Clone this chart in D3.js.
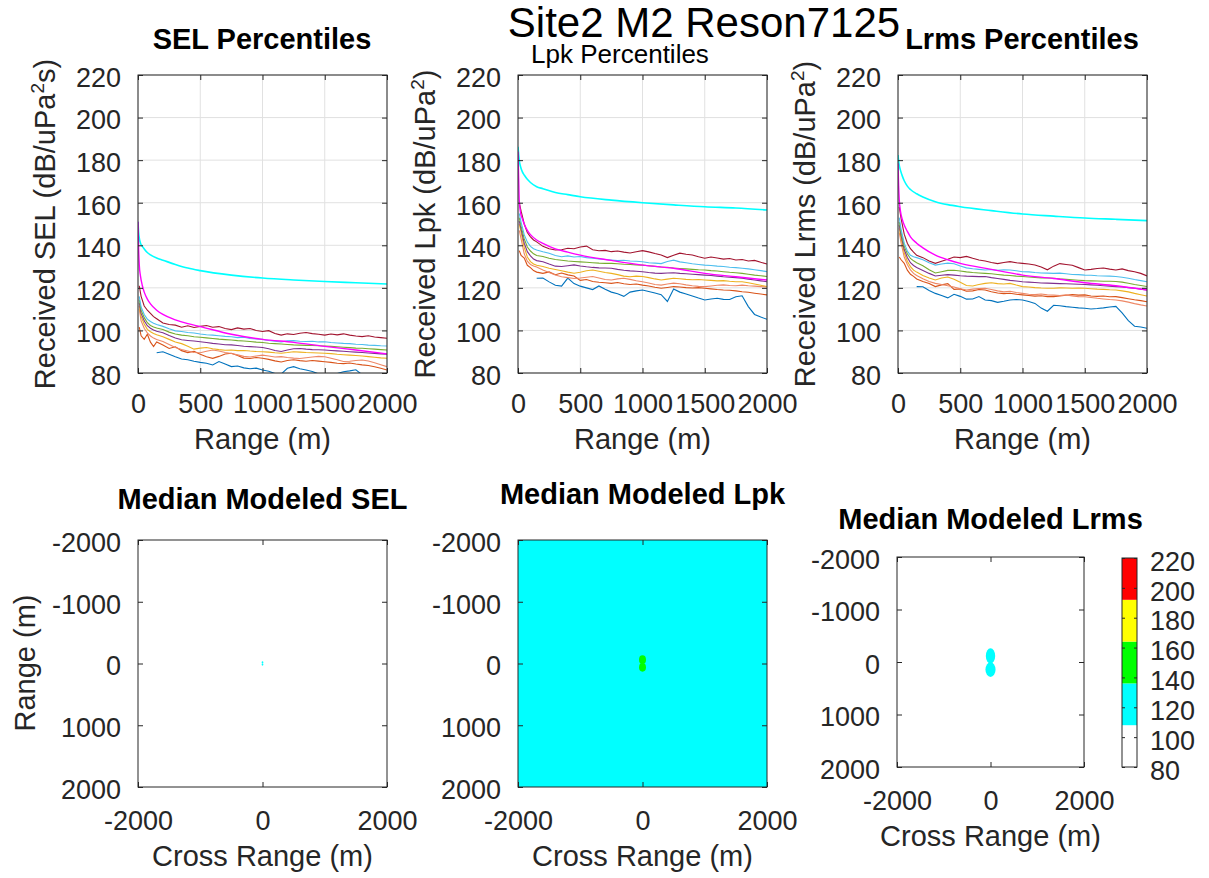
<!DOCTYPE html>
<html><head><meta charset="utf-8">
<script src="https://cdn.jsdelivr.net/npm/d3@7"></script>
<style>body{margin:0;background:#fff;} svg{display:block;}</style>
</head><body><svg id="c" width="1209" height="878"></svg>
<script>
// ---------------- DATA ----------------
const rangeGrid = [10,25,50,75,100,125,150,200,250,300,350,400,450,500,550,600,650,700,750,800,850,900,950,1000,1050,1100,1150,1200,1250,1300,1350,1400,1450,1500,1550,1600,1650,1700,1750,1800,1850,1900,1950,2000];
const modelRange = [0,5,10,20,35,50,75,100,150,200,300,400,500,750,1000,1250,1500,1750,2000];
const rangeTicks = [0,500,1000,1500,2000];
const levelTicks = [80,100,120,140,160,180,200,220];
const mapXTicks = [-2000,0,2000];
const mapYTicks = [-2000,-1000,0,1000,2000];
const levelEdges = [80,108,136,164,192,220];
const levelColors = ['#ffffff','#00ffff','#00ff00','#ffff00','#ff0000'];
const seriesColors = {blue:'#0072BD', orange:'#D95319', salmon:'#EE8866', yellow:'#EDB120', purple:'#7E2F8E', green:'#77AC30', lightblue:'#4DBEEE', darkred:'#A2142F', model:'#00FFFF', fit:'#FF00FF'};

// SEL percentiles
const selDarkRed = [121,116,111.5,109.5,108,106.5,105.5,103.5,102.8,102.5,101.5,102.2,101.4,101.9,102.3,101.5,101.8,100.9,100.4,101.2,100.6,100.9,100.0,99.5,99.9,98.6,97.8,98.4,98.1,98.7,99.0,98.5,98.2,97.8,98.3,97.9,98.4,97.8,97.4,97.1,97.5,96.9,96.6,96.3];
const selLightBlue = [116,111,107.5,105.3,104.2,103.4,102.8,101.9,100.8,99.8,99.5,99.0,98.8,98.3,98.0,97.8,97.5,97.2,97.0,96.6,96.8,96.2,96.0,95.8,95.3,94.9,94.6,95.1,95.2,94.9,94.8,94.9,94.6,94.7,94.3,94.1,93.9,93.8,93.5,93.4,93.1,93.0,92.8,92.7];
const selGreen = [114.5,109.5,106,103.6,102.3,101.6,101.1,100.4,99.2,98.3,97.8,97.5,97.0,96.8,96.5,96.2,95.9,95.7,95.5,95.2,95.0,94.8,94.5,94.3,94.0,93.8,93.6,93.4,93.2,93.1,93.0,92.9,92.8,92.7,92.5,92.3,92.1,91.9,91.7,91.6,91.4,91.2,91.0,90.8];
const selPurple = [113,108,104.5,102.2,101,100.2,99.6,98.9,97.6,96.4,95.6,95.3,95.0,94.7,94.3,93.9,93.6,93.3,93.2,92.9,92.6,92.4,92.2,92.0,91.4,90.6,90.1,90.8,91.4,91.5,91.2,91.0,90.9,90.8,90.6,90.4,90.2,90.0,89.8,89.6,89.4,89.2,89.0,88.8];
const selYellow = [111.5,106.5,103,100.5,99.4,98.6,98,97,95.8,94.6,93.8,92.6,91.2,91.7,92.0,91.4,91.0,90.7,90.8,90.5,90.6,90.3,90.1,90.0,89.8,89.5,89.3,89.6,90.0,89.8,89.6,89.5,89.4,89.3,89.1,88.8,88.6,88.4,88.2,88.0,87.7,87.4,87.1,86.9];
const selSalmon = [110,104.5,101,98.8,97.4,96.4,95.7,94.8,93.4,92.0,91.0,90.3,89.6,89.5,90.2,90.8,90.3,89.6,89.2,88.5,87.8,87.5,88.0,88.4,88.0,87.5,87.7,87.3,87.0,86.8,87.2,87.5,87.8,87.6,86.9,86.2,85.4,85.5,85.9,86.1,85.6,84.8,83.9,83.0];
const selOrange = [101.5,97.5,95.8,98.2,94.5,92.4,94.6,93.2,91.5,92.3,90.5,89.6,90.2,88.8,87.6,86.9,87.8,88.9,89.3,88.2,87.0,86.8,87.3,86.9,86.4,85.7,85.2,85.9,86.2,85.8,85.5,85.9,85.6,85.3,85.0,84.6,84.4,84.7,84.2,83.8,83.5,82.9,82.2,81.4];
const selBlue = [null,null,null,null,null,null,89.5,90.0,88.8,87.6,86.6,86.2,85.5,85.0,84.6,83.8,85.4,84.2,83.0,83.3,82.4,82.0,82.3,81.4,80.8,79.8,79.5,82.2,83.0,82.0,81.4,80.7,79.6,78.8,79.2,79.8,80.6,81.0,81.5,79.2,78.5,78.0,77.5,77.0];
const selModel = [151,146,143.5,141,139.5,138.3,136.6,135.5,134,133,131,129.3,128.1,126,124.6,123.7,123,122.4,121.8];
const selFit = [151,138,131,125.5,121,118,114.7,112.5,109.5,107.5,105,103.2,101.8,98.2,95.8,94.4,92.5,90.8,89];

// Lpk percentiles
const lpkDarkRed = [160,156,150,146,144,142.5,141.6,139.5,138.4,137.8,137.9,138.6,138.4,139.2,139.6,137.9,137.4,137.6,137.0,137.3,136.8,136.4,137.0,137.5,136.9,136.1,135.4,134.2,135.3,136.3,135.8,135.4,134.6,133.9,134.5,134.0,133.5,133.8,133.1,133.3,132.6,132.9,132.0,131.2];
const lpkLightBlue = [155,150.8,145,141.5,139.5,138.4,137.8,137.0,136.3,135.2,134.6,135.0,134.5,134.7,134.2,133.9,133.6,133.3,133.1,132.8,133.0,132.6,132.5,132.3,131.8,131.6,131.4,132.4,133.0,132.2,131.8,131.3,131.0,130.7,130.5,130.2,130.0,129.7,129.5,129.2,128.9,128.5,128.1,127.6];
const lpkGreen = [153,149,143,139.2,137.3,136,135.2,134.7,133.9,133.3,133.0,132.6,132.4,132.2,132.0,131.8,131.6,131.5,131.5,131.3,131.1,131.0,130.8,130.7,130.4,130.1,129.8,129.6,129.3,129.1,128.9,128.7,128.5,128.4,128.1,127.9,127.6,127.3,127.1,126.8,126.4,126.0,125.7,125.3];
const lpkPurple = [151.5,147.5,141,137,135,133.5,132.8,132.3,131.2,130.2,130.0,130.4,130.8,130.3,129.9,129.6,129.4,129.3,129.2,128.7,128.3,128.0,127.8,127.6,127.2,126.9,126.8,127.0,127.1,126.8,126.6,126.4,126.2,126.0,125.8,125.5,125.2,125.0,124.8,124.5,124.1,123.7,123.3,122.9];
const lpkYellow = [150,146,139,134.5,132.3,131.2,130.6,130.0,129.2,128.6,128.0,127.4,126.9,127.3,128.0,128.4,127.8,127.2,126.8,126.2,125.5,125.2,125.5,125.3,124.8,124.2,123.7,124.1,124.5,124.3,124.0,123.8,123.9,123.7,123.5,123.3,123.4,123.1,122.9,122.9,122.4,121.8,121.2,120.6];
const lpkSalmon = [147,143,136,132.5,131,130.3,129.8,128.4,127.2,126.0,125.2,124.8,124.4,124.6,125.0,125.3,124.6,123.9,123.7,124.2,124.5,124.0,123.3,122.9,122.3,121.6,121.3,121.8,122.2,121.9,121.4,121.0,120.7,120.6,120.9,121.2,121.4,121.1,121.0,121.3,121.0,120.8,120.6,120.4];
const lpkOrange = [137.5,135.2,134.0,130.6,129.5,128.1,127.4,126.8,127.5,126.2,127.0,126.1,125.6,123.5,123.9,123.0,122.6,122.4,122.1,122.5,121.9,121.6,121.8,121.3,120.9,120.3,119.8,120.2,120.6,120.4,120.1,119.9,120.1,119.8,119.5,119.2,119.0,118.9,118.6,118.2,117.9,117.5,117.1,116.7];
const lpkBlue = [null,null,null,null,null,null,124.5,124.6,122.8,121.2,120.8,124.6,122.0,120.8,120.0,119.2,120.9,119.3,118.0,117.2,116.0,118.0,118.6,119.0,118.3,117.6,116.8,113.6,119.5,118.0,117.1,116.2,115.2,114.3,114.8,115.1,114.6,114.5,115.8,116.3,111.2,107.5,106.3,105.2];
const lpkModel = [186.3,183,180,177,174.5,173,171,169.5,167.5,166.6,164.8,163.8,162.8,161.2,160,159,158.1,157.5,156.6];
const lpkFit = [184,172,161,155.5,152.5,150,147,145,142.5,140.9,138.3,136.8,135.4,132.9,130.7,129.2,126.8,125.2,123.7];

// Lrms percentiles
const lrmsDarkRed = [158,152.5,145.2,141,138.4,136.8,135.3,134.2,132.6,131.5,132.5,133.4,134.5,134.2,134.8,133.9,133.1,132.6,131.9,131.4,131.9,132.3,131.8,131.5,131.2,130.7,129.8,128.5,130.2,131.4,131.0,130.6,129.5,128.4,128.7,129.1,129.3,128.8,128.4,128.9,128.1,127.6,126.8,125.6];
const lrmsLightBlue = [153,147.5,141,137.3,135.3,134.6,134.2,133.2,131.8,130.7,131.2,131.6,131.3,130.3,129.4,129.0,128.7,128.4,128.6,128.2,128.5,128.4,128.0,127.6,127.5,127.2,127.0,126.9,126.8,126.9,126.6,126.3,126.2,126.0,125.9,125.7,125.6,125.5,125.3,125.0,124.5,123.9,123.4,122.9];
const lrmsGreen = [151,146,139.5,136,133.8,132.7,131.8,130.4,128.5,127.0,127.6,128.2,128.3,127.9,127.5,127.2,127.0,126.8,126.6,126.3,126.0,125.8,125.5,125.3,125.1,124.9,124.7,124.6,124.5,124.2,124.0,123.8,123.6,123.4,123.3,123.2,123.1,123.1,123.0,122.7,122.2,121.6,121.1,120.6];
const lrmsPurple = [149.5,144.5,138,134.3,131.8,130.5,129.6,128.2,126.8,125.6,125.9,126.2,126.0,125.7,125.5,125.4,125.3,125.3,124.8,124.4,124.0,123.5,123.2,122.9,122.7,122.5,122.3,122.2,122.1,122.0,121.9,121.8,121.7,121.6,121.4,121.2,121.0,120.8,120.6,120.4,120.1,119.8,119.4,119.0];
const lrmsYellow = [148,143,136.5,132.5,130.0,128.3,127.4,125.8,124.6,123.7,124.6,125.1,124.0,122.6,121.1,120.9,121.6,122.1,122.4,122.0,121.8,122.1,121.3,120.6,120.4,120.1,119.9,119.8,119.8,120.0,119.9,119.8,119.9,119.8,119.6,119.4,119.3,119.1,119.0,118.6,118.1,117.4,116.8,116.2];
const lrmsSalmon = [146,141,134.5,131,128.4,126.8,125.8,124.3,123.0,122.1,121.6,121.0,120.4,119.6,119.0,119.4,119.7,119.8,119.2,118.6,118.1,118.4,117.8,117.4,117.0,116.8,117.1,116.7,116.6,116.4,116.7,116.2,115.9,115.8,115.5,115.1,114.8,114.5,114.3,113.9,113.3,112.6,112.0,111.5];
const lrmsOrange = [134.5,133.2,131.5,128.3,126.4,125.4,124.2,123.0,122.0,120.6,121.4,122.0,119.3,119.5,118.4,118.6,119.2,119.0,118.2,117.6,117.3,117.5,117.0,116.7,116.4,116.1,116.3,115.9,115.9,116.2,116.5,116.8,116.6,116.7,116.2,116.0,116.2,115.8,115.9,115.4,114.9,114.4,114.0,113.5];
const lrmsBlue = [null,null,null,null,null,null,120.6,120.5,118.8,117.4,116.4,115.3,117.0,116.0,114.7,114.8,115.9,114.3,114.0,113.2,113.7,114.3,114.5,114.3,113.6,112.7,110.5,109.0,111.8,111.6,111.2,110.9,110.6,110.4,110.1,110.3,110.6,111.0,111.3,108.2,104.6,102.0,101.6,101.0];
const lrmsModel = [182.4,179.5,177.5,175.2,172.5,170.3,167.8,166.2,164.2,162.7,160.5,159.1,158.1,156.3,154.7,153.7,152.8,152.2,151.6];
const lrmsFit = [178.5,168,161.5,156,152,149.5,146.5,144,141,138.8,135.4,133.2,131.5,128.7,126,124.4,122.4,121,119];

// Median modeled maps: contour regions (metres), band index into levelEdges
const selMapBackgroundBand = 0;
const selMapBlobs = [{band:1,cx:0,cy:-18,rx:14,ry:18},{band:1,cx:0,cy:18,rx:14,ry:18}];
const lpkMapBackgroundBand = 1;
const lpkMapBlobs = [{band:2,cx:0,cy:-62,rx:56,ry:70},{band:2,cx:0,cy:62,rx:56,ry:70}];
const lrmsMapBackgroundBand = 0;
const lrmsMapBlobs = [{band:1,cx:0,cy:-115,rx:100,ry:145},{band:1,cx:0,cy:145,rx:108,ry:140}];

// ---------------- DRAWING ----------------
const svg = d3.select('#c');
const FONT = '"Liberation Sans", Arial, Helvetica, sans-serif';
const TICK_FS = 27, LABEL_FS = 29, TITLE_FS = 29;
const AX = '#262626';
const fmt = d => String(d);
svg.append('rect').attr('width',1209).attr('height',878).attr('fill','#fff');

function styleAxis(g, dy) {
  g.select('.domain').remove();
  g.selectAll('line').attr('stroke', AX).attr('stroke-width', 1);
  g.selectAll('text').attr('fill', AX).attr('font-size', TICK_FS).attr('font-family', FONT);
  if (dy) g.selectAll('text').attr('dy', dy);
}
function text(x, y, str, opts) {
  const t = svg.append('text').attr('x', x).attr('y', y).text(str)
    .attr('font-family', FONT).attr('font-size', opts.size).attr('fill', opts.fill || '#000')
    .attr('text-anchor', opts.anchor || 'middle');
  if (opts.bold) t.attr('font-weight', 'bold');
  if (opts.rotate) t.attr('transform', `rotate(-90,${x},${y})`);
  return t;
}

let clipN = 0;
function clipRect(x0, y0, x1, y1) {
  const id = 'clip' + (clipN++);
  svg.append('clipPath').attr('id', id).append('rect')
    .attr('x', x0).attr('y', y0).attr('width', x1 - x0).attr('height', y1 - y0);
  return `url(#${id})`;
}

function drawTop(p) {
  const x = d3.scaleLinear().domain([0, 2000]).range([p.x0, p.x1]);
  const y = d3.scaleLinear().domain([80, 220]).range([p.y1, p.y0]);
  const g = svg.append('g');
  g.selectAll(null).data(rangeTicks).join('line')
    .attr('x1', d => x(d)).attr('x2', d => x(d)).attr('y1', p.y0).attr('y2', p.y1)
    .attr('stroke', '#e1e1e1').attr('stroke-width', 1);
  g.selectAll(null).data(levelTicks).join('line')
    .attr('y1', d => y(d)).attr('y2', d => y(d)).attr('x1', p.x0).attr('x2', p.x1)
    .attr('stroke', '#e1e1e1').attr('stroke-width', 1);
  const lg = g.append('g').attr('clip-path', clipRect(p.x0, p.y0, p.x1, p.y1));
  const line = d3.line().defined(d => d[1] != null).x(d => x(d[0])).y(d => y(d[1]));
  p.series.forEach(s => {
    lg.append('path').datum(rangeGrid.map((r, i) => [r, s.values[i]]))
      .attr('d', line).attr('fill', 'none').attr('stroke', s.color).attr('stroke-width', 1.1);
  });
  const mline = d3.line().x(d => x(d[0])).y(d => y(d[1])).curve(d3.curveMonotoneX);
  lg.append('path').datum(modelRange.map((r, i) => [r, p.model[i]]))
    .attr('d', mline).attr('fill', 'none').attr('stroke', seriesColors.model).attr('stroke-width', 1.6);
  lg.append('path').datum(modelRange.map((r, i) => [r, p.fit[i]]))
    .attr('d', mline).attr('fill', 'none').attr('stroke', seriesColors.fit).attr('stroke-width', 1.4);

  g.append('g').attr('transform', `translate(0,${p.y1})`)
    .call(d3.axisBottom(x).tickValues(rangeTicks).tickSize(-5).tickPadding(21).tickFormat(fmt))
    .call(s => styleAxis(s));
  g.append('g').attr('transform', `translate(${p.x0},0)`)
    .call(d3.axisLeft(y).tickValues(levelTicks).tickSize(-5).tickPadding(17).tickFormat(fmt))
    .call(s => styleAxis(s, '0.42em'));
  g.append('g').attr('transform', `translate(0,${p.y0})`)
    .call(d3.axisTop(x).tickValues(rangeTicks).tickSize(-5).tickFormat('')).call(s => styleAxis(s));
  g.append('g').attr('transform', `translate(${p.x1},0)`)
    .call(d3.axisRight(y).tickValues(levelTicks).tickSize(-5).tickFormat('')).call(s => styleAxis(s));
  g.append('rect').attr('x', p.x0).attr('y', p.y0).attr('width', p.x1 - p.x0).attr('height', p.y1 - p.y0)
    .attr('fill', 'none').attr('stroke', AX).attr('stroke-width', 1);

  text((p.x0 + p.x1) / 2, 449, 'Range (m)', {size: LABEL_FS, fill: AX});
  const yl = text(p.x0 - 83, (p.y0 + p.y1) / 2, '', {size: LABEL_FS, fill: AX, rotate: true});
  yl.append('tspan').text(p.ylabel[0]);
  yl.append('tspan').text('2').attr('font-size', 19).attr('dy', -11);
  yl.append('tspan').text(p.ylabel[1]).attr('dy', 11);
}

function drawMap(p) {
  const x = d3.scaleLinear().domain([-2000, 2000]).range([p.x0, p.x1]);
  const y = d3.scaleLinear().domain([-2000, 2000]).range([p.y0, p.y1]);
  const g = svg.append('g');
  const cg = g.append('g').attr('clip-path', clipRect(p.x0, p.y0, p.x1, p.y1));
  cg.append('rect').attr('x', x(-2000)).attr('y', y(-2000))
    .attr('width', x(2000) - x(-2000)).attr('height', y(2000) - y(-2000))
    .attr('fill', levelColors[p.bg]);
  cg.selectAll(null).data(p.blobs).join('ellipse')
    .attr('cx', d => x(d.cx)).attr('cy', d => y(d.cy))
    .attr('rx', d => x(d.rx) - x(0)).attr('ry', d => y(d.ry) - y(0))
    .attr('fill', d => levelColors[d.band]);

  g.append('g').attr('transform', `translate(0,${p.y1})`)
    .call(d3.axisBottom(x).tickValues(mapXTicks).tickSize(-5).tickPadding(24).tickFormat(fmt))
    .call(s => styleAxis(s));
  g.append('g').attr('transform', `translate(${p.x0},0)`)
    .call(d3.axisLeft(y).tickValues(mapYTicks).tickSize(-5).tickPadding(17).tickFormat(fmt))
    .call(s => styleAxis(s, '0.42em'));
  g.append('g').attr('transform', `translate(0,${p.y0})`)
    .call(d3.axisTop(x).tickValues(mapXTicks).tickSize(-5).tickFormat('')).call(s => styleAxis(s));
  g.append('g').attr('transform', `translate(${p.x1},0)`)
    .call(d3.axisRight(y).tickValues(mapYTicks).tickSize(-5).tickFormat('')).call(s => styleAxis(s));
  g.append('rect').attr('x', p.x0).attr('y', p.y0).attr('width', p.x1 - p.x0).attr('height', p.y1 - p.y0)
    .attr('fill', 'none').attr('stroke', AX).attr('stroke-width', 1);

  text((p.x0 + p.x1) / 2, p.y1 + 79, 'Cross Range (m)', {size: LABEL_FS, fill: AX});
  text((p.x0 + p.x1) / 2, p.titleY, p.title, {size: TITLE_FS, bold: true});
}

// top row
drawTop({x0: 138, x1: 387, y0: 75, y1: 373, model: selModel, fit: selFit,
  ylabel: ['Received SEL (dB/uPa', 's)'],
  series: [
    {values: selBlue, color: seriesColors.blue}, {values: selOrange, color: seriesColors.orange},
    {values: selSalmon, color: seriesColors.salmon}, {values: selYellow, color: seriesColors.yellow},
    {values: selPurple, color: seriesColors.purple}, {values: selGreen, color: seriesColors.green},
    {values: selLightBlue, color: seriesColors.lightblue}, {values: selDarkRed, color: seriesColors.darkred}]});
drawTop({x0: 518, x1: 767, y0: 75, y1: 373, model: lpkModel, fit: lpkFit,
  ylabel: ['Received Lpk (dB/uPa', ')'],
  series: [
    {values: lpkBlue, color: seriesColors.blue}, {values: lpkOrange, color: seriesColors.orange},
    {values: lpkSalmon, color: seriesColors.salmon}, {values: lpkYellow, color: seriesColors.yellow},
    {values: lpkPurple, color: seriesColors.purple}, {values: lpkGreen, color: seriesColors.green},
    {values: lpkLightBlue, color: seriesColors.lightblue}, {values: lpkDarkRed, color: seriesColors.darkred}]});
drawTop({x0: 898, x1: 1147, y0: 75, y1: 373, model: lrmsModel, fit: lrmsFit,
  ylabel: ['Received Lrms (dB/uPa', ')'],
  series: [
    {values: lrmsBlue, color: seriesColors.blue}, {values: lrmsOrange, color: seriesColors.orange},
    {values: lrmsSalmon, color: seriesColors.salmon}, {values: lrmsYellow, color: seriesColors.yellow},
    {values: lrmsPurple, color: seriesColors.purple}, {values: lrmsGreen, color: seriesColors.green},
    {values: lrmsLightBlue, color: seriesColors.lightblue}, {values: lrmsDarkRed, color: seriesColors.darkred}]});

text(262, 49, 'SEL Percentiles', {size: TITLE_FS, bold: true});
text(1022, 49, 'Lrms Percentiles', {size: TITLE_FS, bold: true});
text(620, 63, 'Lpk Percentiles', {size: 26});

// bottom row
drawMap({x0: 138, x1: 387, y0: 540, y1: 787, bg: selMapBackgroundBand, blobs: selMapBlobs,
  title: 'Median Modeled SEL', titleY: 509});
drawMap({x0: 518, x1: 767, y0: 540, y1: 787, bg: lpkMapBackgroundBand, blobs: lpkMapBlobs,
  title: 'Median Modeled Lpk', titleY: 504});
drawMap({x0: 897, x1: 1084, y0: 557, y1: 767, bg: lrmsMapBackgroundBand, blobs: lrmsMapBlobs,
  title: 'Median Modeled Lrms', titleY: 529});
text(35, 663, 'Range (m)', {size: LABEL_FS, fill: AX, rotate: true});

// colorbar
const cb = d3.scaleLinear().domain([80, 220]).range([767, 558]);
const cbg = svg.append('g');
cbg.selectAll(null).data(levelColors).join('rect')
  .attr('x', 1122).attr('width', 15)
  .attr('y', (d, i) => cb(levelEdges[i + 1])).attr('height', (d, i) => cb(levelEdges[i]) - cb(levelEdges[i + 1]))
  .attr('fill', d => d);
cbg.append('g').attr('transform', 'translate(1137,0)')
  .call(d3.axisRight(cb).tickValues(levelTicks).tickSize(-3).tickPadding(13).tickFormat(fmt))
  .call(s => styleAxis(s, '0.45em'));
cbg.append('g').attr('transform', 'translate(1122,0)')
  .call(d3.axisLeft(cb).tickValues(levelTicks).tickSize(-3).tickFormat('')).call(s => styleAxis(s));
cbg.append('rect').attr('x', 1122).attr('y', 558).attr('width', 15).attr('height', 209)
  .attr('fill', 'none').attr('stroke', AX).attr('stroke-width', 1);

// super title
text(704, 37, 'Site2 M2 Reson7125', {size: 42});
</script></body></html>
